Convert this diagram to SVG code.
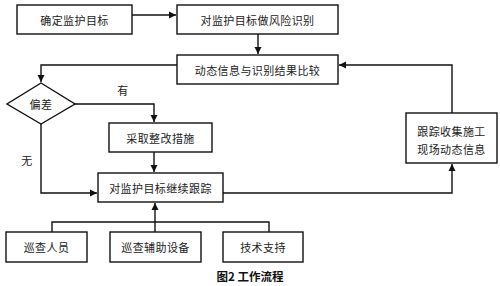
<svg xmlns="http://www.w3.org/2000/svg" width="500" height="286" viewBox="0 0 500 286">
<defs>
<marker id="ah" markerWidth="8" markerHeight="8" refX="7" refY="4" orient="auto" markerUnits="userSpaceOnUse">
<path d="M0,0.5 L7,4 L0,7.5 Z" fill="#111"/>
</marker>
<style>
.box{fill:#fff;stroke:#111;stroke-width:1.4}
.t{font-family:"Noto Sans CJK SC","Noto Sans",sans-serif;font-size:11px;fill:#222;text-anchor:middle;dominant-baseline:central;letter-spacing:0.4px}
.c{fill:none;stroke:#111;stroke-width:1.4}
.cap{font-family:"Noto Sans CJK SC","Liberation Sans",sans-serif;font-size:11.5px;font-weight:bold;fill:#111;text-anchor:middle;dominant-baseline:central}
</style>
</defs>
<rect width="500" height="286" fill="#fff"/>
<g id="connectors">
<path class="c" d="M132,15 H176" marker-end="url(#ah)"/>
<path class="c" d="M258,34 V54" marker-end="url(#ah)"/>
<path class="c" d="M177,65 H41 V82" marker-end="url(#ah)"/>
<path class="c" d="M75,104 H154 V122" marker-end="url(#ah)"/>
<path class="c" d="M154,152 V172" marker-end="url(#ah)"/>
<path class="c" d="M41,124 V193 H97" marker-end="url(#ah)"/>
<path class="c" d="M223,193 H452 V164" marker-end="url(#ah)"/>
<path class="c" d="M452,113 V65 H339" marker-end="url(#ah)"/>
<path class="c" d="M52,232 V222 H269 V232"/>
<path class="c" d="M155,232 V203" marker-end="url(#ah)"/>
</g>
<g id="n1"><rect class="box" x="17" y="5" width="115" height="29"/><text class="t" x="74.5" y="19.5">确定监护目标</text></g>
<g id="n2"><rect class="box" x="177" y="5" width="161" height="29"/><text class="t" x="257.5" y="19.5">对监护目标做风险识别</text></g>
<g id="n3"><rect class="box" x="177" y="55" width="161" height="29"/><text class="t" x="257.5" y="69.5">动态信息与识别结果比较</text></g>
<g id="n4"><polygon class="box" points="41,83 75,104 41,124 7,104"/><text class="t" x="41" y="104">偏差</text></g>
<g id="n5"><rect class="box" x="109" y="123" width="103" height="29"/><text class="t" x="160.5" y="137.5">采取整改措施</text></g>
<g id="n6"><rect class="box" x="98" y="173" width="125" height="29"/><text class="t" x="160.5" y="187.5">对监护目标继续跟踪</text></g>
<g id="n7"><rect class="box" x="406" y="113" width="91" height="50"/><text class="t" x="451.5" y="131">跟踪收集施工</text><text class="t" x="451.5" y="149">现场动态信息</text></g>
<g id="n8"><rect class="box" x="6" y="232" width="81" height="30"/><text class="t" x="46.5" y="247">巡查人员</text></g>
<g id="n9"><rect class="box" x="110" y="232" width="91" height="30"/><text class="t" x="155.5" y="247">巡查辅助设备</text></g>
<g id="n10"><rect class="box" x="223" y="232" width="80" height="30"/><text class="t" x="263" y="247">技术支持</text></g>
<text class="t" x="123" y="90">有</text>
<text class="t" x="27" y="160">无</text>
<text class="cap" x="250" y="276">图2 工作流程</text>
</svg>
